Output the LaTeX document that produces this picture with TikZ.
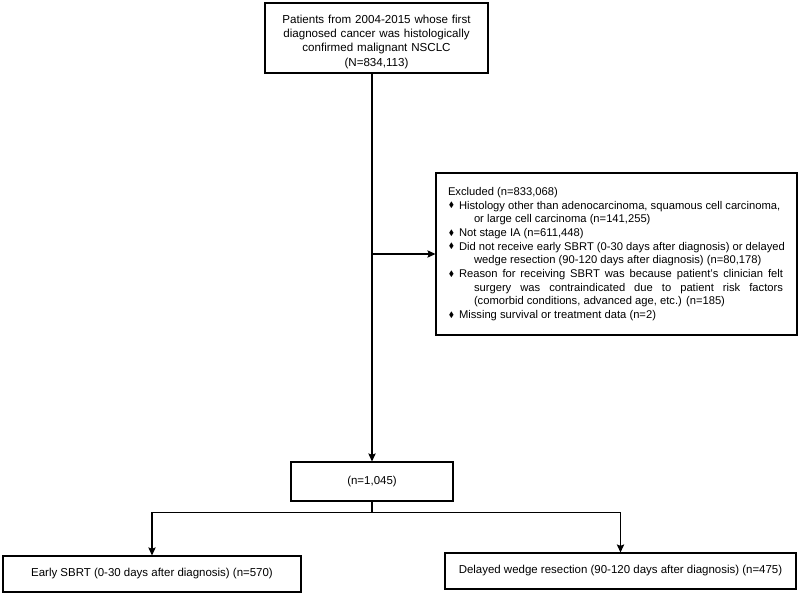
\documentclass[tikz,border=0pt]{standalone}
\usepackage{fontspec}
\setmainfont{Liberation Sans}
\usepackage{amssymb}
\usepackage{graphicx}
\usetikzlibrary{arrows.meta}
\newcommand{\bl}{\makebox[8.25pt][l]{\hspace{0.6pt}\raisebox{0.2ex}{\scalebox{0.7}{$\blacklozenge$}}}}
\newcommand{\ct}{\hspace*{19.5pt}}

\begin{document}
\begin{tikzpicture}[x=0.75pt,y=-0.75pt,>={Stealth[length=6pt,width=5.5pt,inset=1pt]},line width=0.8pt]
\tikzstyle{box}=[draw,inner sep=0pt,align=center,font=\fontsize{8.6}{10.3}\selectfont]
\tikzstyle{ln}=[line width=0.9pt]
\useasboundingbox (0,0) rectangle (800,595);
\node[box,minimum width=167.25pt,minimum height=52.5pt,text width=160pt,font=\fontsize{8.7}{10.7}\selectfont] (pat) at (376.5,38) {\rule{0pt}{12pt}Patients from 2004-2015 whose first\\ diagnosed cancer was histologically\\ confirmed malignant NSCLC\\ (N=834,113)};
\node[box,minimum width=270.75pt,minimum height=121.5pt,align=left,font=\fontsize{8.4}{10.25}\selectfont] (exc) at (616.5,254) {Excluded (n=833,068)\\
\bl Histology other than adenocarcinoma, squamous cell carcinoma,\\
\ct or large cell carcinoma (n=141,255)\\
\bl Not stage IA (n=611,448)\\
\bl Did not receive early SBRT (0-30 days after diagnosis) or delayed\\
\ct wedge resection (90-120 days after diagnosis) (n=80,178)\\
\bl\makebox[243pt][s]{Reason for receiving SBRT was because patient’s clinician felt}\\
\ct\makebox[231.75pt][s]{surgery was contraindicated due to patient risk factors}\\
\ct (comorbid conditions, advanced age, etc.) (n=185)\\
\bl Missing survival or treatment data (n=2)};
\node[box,minimum width=121.5pt,minimum height=29.25pt] (all) at (372,481.5) {(n=1,045)};
\node[box,minimum width=223.5pt,minimum height=27pt] (sbrt) at (152,574) {Early SBRT (0-30 days after diagnosis) (n=570)};
\node[box,minimum width=263.25pt,minimum height=27pt] (wedge) at (620.5,571) {Delayed wedge resection (90-120 days after diagnosis) (n=475)};
\draw[ln,->] (pat.south -| all.north) -- (all.north);
\draw[ln,->] (exc.west -| all.north) -- (exc.west);
\draw[ln] (all.south) -- ++(0,11) coordinate (br);
\draw[ln,->] (br) -| (sbrt.north);
\draw[ln,->] (br) -| (wedge.north);
\end{tikzpicture}
\end{document}
